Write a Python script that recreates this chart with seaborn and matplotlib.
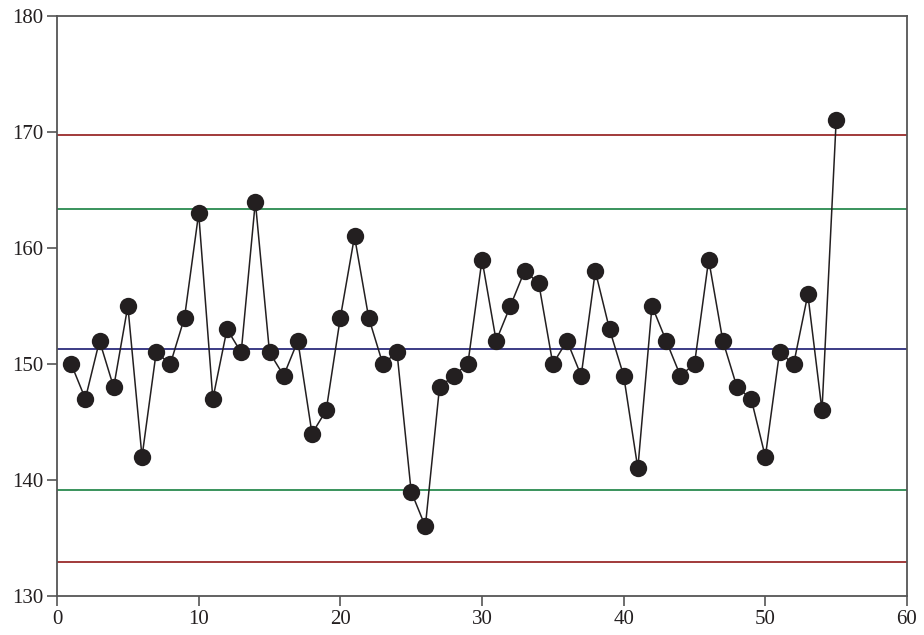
import pandas as pd
import matplotlib
matplotlib.use("Agg")
import matplotlib.pyplot as plt
import seaborn as sns

# sample number and measured value
samples = list(range(1, 56))
values = [150, 147, 152, 148, 155, 142, 151, 150, 154, 163,
          147, 153, 151, 164, 151, 149, 152, 144, 146, 154,
          161, 154, 150, 151, 139, 136, 148, 149, 150, 159,
          152, 155, 158, 157, 150, 152, 149, 158, 153, 149,
          141, 155, 152, 149, 150, 159, 152, 148, 147, 142,
          151, 150, 156, 146, 171]

# control limits
ucl, lcl = 169.7, 132.9
uwl, lwl = 163.4, 139.1
centre = 151.3

df = pd.DataFrame({"sample": samples, "value": values})

sns.set_style("ticks")
plt.rcParams["font.family"] = ["Liberation Serif", "DejaVu Serif"]

fig = plt.figure(figsize=(9.24, 6.35), dpi=100)
ax = fig.add_axes([0.0617, 0.0614, 0.9199, 0.9134])

ax.axhline(ucl, color="#9a2b2b", lw=1.3, zorder=1)
ax.axhline(lcl, color="#9a2b2b", lw=1.3, zorder=1)
ax.axhline(uwl, color="#2a8a4f", lw=1.3, zorder=1)
ax.axhline(lwl, color="#2a8a4f", lw=1.3, zorder=1)
ax.axhline(centre, color="#2c2c7c", lw=1.3, zorder=1)

sns.lineplot(data=df, x="sample", y="value", ax=ax, color="#231f20",
             lw=1.1, marker="o", markersize=12.5, markeredgewidth=0,
             markerfacecolor="#231f20", zorder=3)

ax.set_xlim(0, 60)
ax.set_ylim(130, 180)
ax.set_xticks([0, 10, 20, 30, 40, 50, 60])
ax.set_yticks([130, 140, 150, 160, 170, 180])
ax.set_xlabel("")
ax.set_ylabel("")
for s in ax.spines.values():
    s.set_color("#555555")
    s.set_linewidth(1.3)
ax.tick_params(direction="out", length=7, width=1.2, color="#555555",
               labelsize=15, labelcolor="#231f20", pad=3)

fig.savefig("out.png", dpi=100)
